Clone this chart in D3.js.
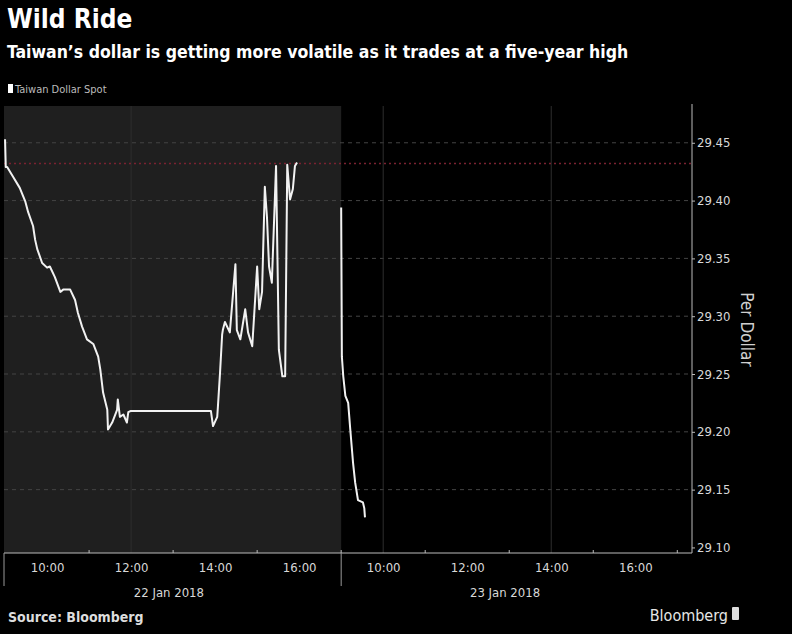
<!DOCTYPE html>
<html>
<head>
<meta charset="utf-8">
<script src="https://cdn.jsdelivr.net/npm/d3@7"></script>
<style>
  body { margin: 0; background: #000; }
  svg { display: block; }
  text { font-family: "DejaVu Sans Condensed", "DejaVu Sans", sans-serif; font-stretch: condensed; }
</style>
</head>
<body>
<div id="chart"></div>
<script>
// Taiwan dollar spot, two sessions (times are local, value = TWD per USD)
var day1Times = ["09:00","09:01","09:03","09:11","09:21","09:29","09:33","09:40","09:43","09:46","09:53",
  "10:00","10:04","10:11","10:19","10:23","10:33","10:40","10:44","10:50","10:57","11:06","11:13","11:16",
  "11:20","11:26","11:27","11:33","11:40","11:41","11:44","11:49","11:54","11:56","11:59","13:54","13:57",
  "14:03","14:04","14:07","14:10","14:11","14:14","14:21","14:29","14:31","14:36","14:43","14:47","14:53",
  "15:00","15:03","15:07","15:11","15:14","15:17","15:21","15:27","15:31","15:36","15:40","15:43","15:47",
  "15:51","15:54","15:57"];
var day1Values = [29.453,29.429,29.429,29.421,29.411,29.399,29.390,29.378,29.366,29.358,29.346,
  29.342,29.343,29.334,29.321,29.323,29.323,29.314,29.303,29.291,29.280,29.276,29.265,29.254,
  29.234,29.219,29.202,29.208,29.219,29.228,29.213,29.215,29.208,29.217,29.218,29.218,29.205,
  29.213,29.222,29.251,29.284,29.288,29.295,29.286,29.345,29.288,29.280,29.306,29.286,29.274,
  29.343,29.306,29.321,29.412,29.386,29.343,29.329,29.430,29.271,29.248,29.248,29.431,29.401,
  29.410,29.430,29.433];
var day2Times = ["09:00","09:01","09:03","09:06","09:10","09:13","09:17","09:20","09:24","09:31","09:33","09:34"];
var day2Values = [29.394,29.265,29.248,29.231,29.225,29.202,29.173,29.156,29.141,29.139,29.134,29.126];

var yTicks = [29.10, 29.15, 29.20, 29.25, 29.30, 29.35, 29.40, 29.45];
var highLevel = 29.432;
var days = ["22 Jan 2018", "23 Jan 2018"];
var hourLabels = [10, 12, 14, 16];
var minorHours = [11, 13, 15, 17];
var gridTimes = [[0, 12], [1, 10], [1, 14]];

var width = 792, height = 634;
var plotLeft = 4, plotRight = 692, plotTop = 106, plotBottom = 553;
var sessionStart = 9, sessionLen = 8;

var svg = d3.select("#chart").append("svg")
  .attr("width", width).attr("height", height);

svg.append("rect").attr("width", width).attr("height", height).attr("fill", "#000");

// session clock: hours since day-1 open, each session 8h long
function toT(day, hhmm) {
  var p = hhmm.split(":");
  return day * sessionLen + (+p[0] - sessionStart) + (+p[1]) / 60;
}

var x = d3.scaleLinear().domain([-0.025, 16.35]).range([plotLeft, plotRight]);
var y = d3.scaleLinear().domain([29.0952, 29.4818]).range([plotBottom, plotTop]);

var line1 = day1Times.map(function(t, i) { return [toT(0, t), day1Values[i]]; });
var line2 = day2Times.map(function(t, i) { return [toT(1, t), day2Values[i]]; });

// previous session shaded
svg.append("rect")
  .attr("x", plotLeft).attr("y", plotTop)
  .attr("width", x(toT(1, "09:00")) - plotLeft)
  .attr("height", plotBottom - plotTop)
  .attr("fill", "#1f1f1f");

// horizontal grid
svg.append("g").selectAll("line")
  .data(yTicks.slice(1))
  .enter().append("line")
  .attr("x1", plotLeft).attr("x2", plotRight)
  .attr("y1", function(d) { return y(d); })
  .attr("y2", function(d) { return y(d); })
  .attr("stroke", "#444")
  .attr("stroke-width", 1)
  .attr("stroke-dasharray", "4,4");

// vertical grid
svg.append("g").selectAll("line")
  .data(gridTimes)
  .enter().append("line")
  .attr("x1", function(d) { return x(d[0] * sessionLen + d[1] - sessionStart); })
  .attr("x2", function(d) { return x(d[0] * sessionLen + d[1] - sessionStart); })
  .attr("y1", plotTop).attr("y2", plotBottom)
  .attr("stroke", "#2e2e2e")
  .attr("stroke-width", 1);

// five-year-high level
svg.append("line")
  .attr("x1", plotLeft).attr("x2", plotRight)
  .attr("y1", y(highLevel)).attr("y2", y(highLevel))
  .attr("stroke", "#7a2230")
  .attr("stroke-width", 1.5)
  .attr("stroke-dasharray", "2,3");

// price line, one path per session
var lineGen = d3.line()
  .x(function(d) { return x(d[0]); })
  .y(function(d) { return y(d[1]); });

svg.append("g").selectAll("path")
  .data([line1, line2])
  .enter().append("path")
  .attr("d", lineGen)
  .attr("fill", "none")
  .attr("stroke", "#f2f2f2")
  .attr("stroke-width", 2)
  .attr("stroke-linejoin", "round");

// right axis
var yAxis = d3.axisRight(y).tickValues(yTicks).tickSize(3)
  .tickFormat(d3.format(".2f"));
var gy = svg.append("g").attr("transform", "translate(" + plotRight + ",0)").call(yAxis);
gy.select(".domain").attr("stroke", "#bbb").attr("d", "M0," + (plotTop - 2) + "V" + plotBottom);
gy.selectAll(".tick line").attr("stroke", "#bbb");
gy.selectAll(".tick text")
  .attr("x", 5)
  .attr("fill", "#d8d8d8")
  .style("font-size", "13px");

svg.append("text")
  .attr("transform", "translate(741," + ((plotTop + plotBottom) / 2) + ") rotate(90)")
  .attr("text-anchor", "middle")
  .attr("fill", "#cfcfcf")
  .style("font-size", "17px")
  .text("Per Dollar");

// bottom axis
var labelT = [], minorT = [];
[0, 1].forEach(function(d) {
  hourLabels.forEach(function(h) { labelT.push(d * sessionLen + h - sessionStart); });
  minorHours.forEach(function(h) { minorT.push(d * sessionLen + h - sessionStart); });
});
var xAxis = d3.axisBottom(x).tickValues(labelT).tickSize(0)
  .tickFormat(function(t) {
    var h = sessionStart + (t % sessionLen);
    return h + ":00";
  });
var gx = svg.append("g").attr("transform", "translate(0," + plotBottom + ")").call(xAxis);
gx.select(".domain").attr("stroke", "#bbb").attr("d", "M" + plotLeft + ",0H" + plotRight);
gx.selectAll(".tick text")
  .attr("y", 10)
  .attr("fill", "#d8d8d8")
  .style("font-size", "13px");

svg.append("g").selectAll("line")
  .data(minorT)
  .enter().append("line")
  .attr("x1", function(d) { return x(d); })
  .attr("x2", function(d) { return x(d); })
  .attr("y1", plotBottom).attr("y2", plotBottom - 3)
  .attr("stroke", "#bbb");

// day separators
svg.append("g").selectAll("line")
  .data([0, 1])
  .enter().append("line")
  .attr("x1", function(d) { return d == 0 ? plotLeft : x(d * sessionLen); })
  .attr("x2", function(d) { return d == 0 ? plotLeft : x(d * sessionLen); })
  .attr("y1", plotBottom).attr("y2", 586)
  .attr("stroke", "#999");

svg.append("g").selectAll("text")
  .data(days)
  .enter().append("text")
  .attr("x", function(d, i) { return x(i * sessionLen + 3.9); })
  .attr("y", 597)
  .attr("text-anchor", "middle")
  .attr("fill", "#d8d8d8")
  .style("font-size", "13px")
  .text(function(d) { return d; });

// titles
svg.append("text").attr("x", 7).attr("y", 28)
  .attr("fill", "#fff").style("font-size", "26px").style("font-weight", "bold")
  .text("Wild Ride");
svg.append("text").attr("x", 7).attr("y", 58)
  .attr("fill", "#fff").style("font-size", "17.5px").style("font-weight", "bold")
  .text("Taiwan\u2019s dollar is getting more volatile as it trades at a five-year high");

// legend
svg.append("rect").attr("x", 8).attr("y", 84).attr("width", 5).attr("height", 9).attr("fill", "#fff");
svg.append("text").attr("x", 15).attr("y", 93)
  .attr("fill", "#bbb").style("font-size", "11px")
  .text("Taiwan Dollar Spot");

// footer
svg.append("text").attr("x", 8).attr("y", 622)
  .attr("fill", "#ddd").style("font-size", "14px").style("font-weight", "bold")
  .text("Source: Bloomberg");
svg.append("text").attr("x", 728).attr("y", 621)
  .attr("text-anchor", "end")
  .attr("fill", "#e6e6e6").style("font-size", "16px")
  .text("Bloomberg");
svg.append("rect").attr("x", 732).attr("y", 607).attr("width", 7).attr("height", 13)
  .attr("rx", 1).attr("fill", "#ddd");
</script>
</body>
</html>
